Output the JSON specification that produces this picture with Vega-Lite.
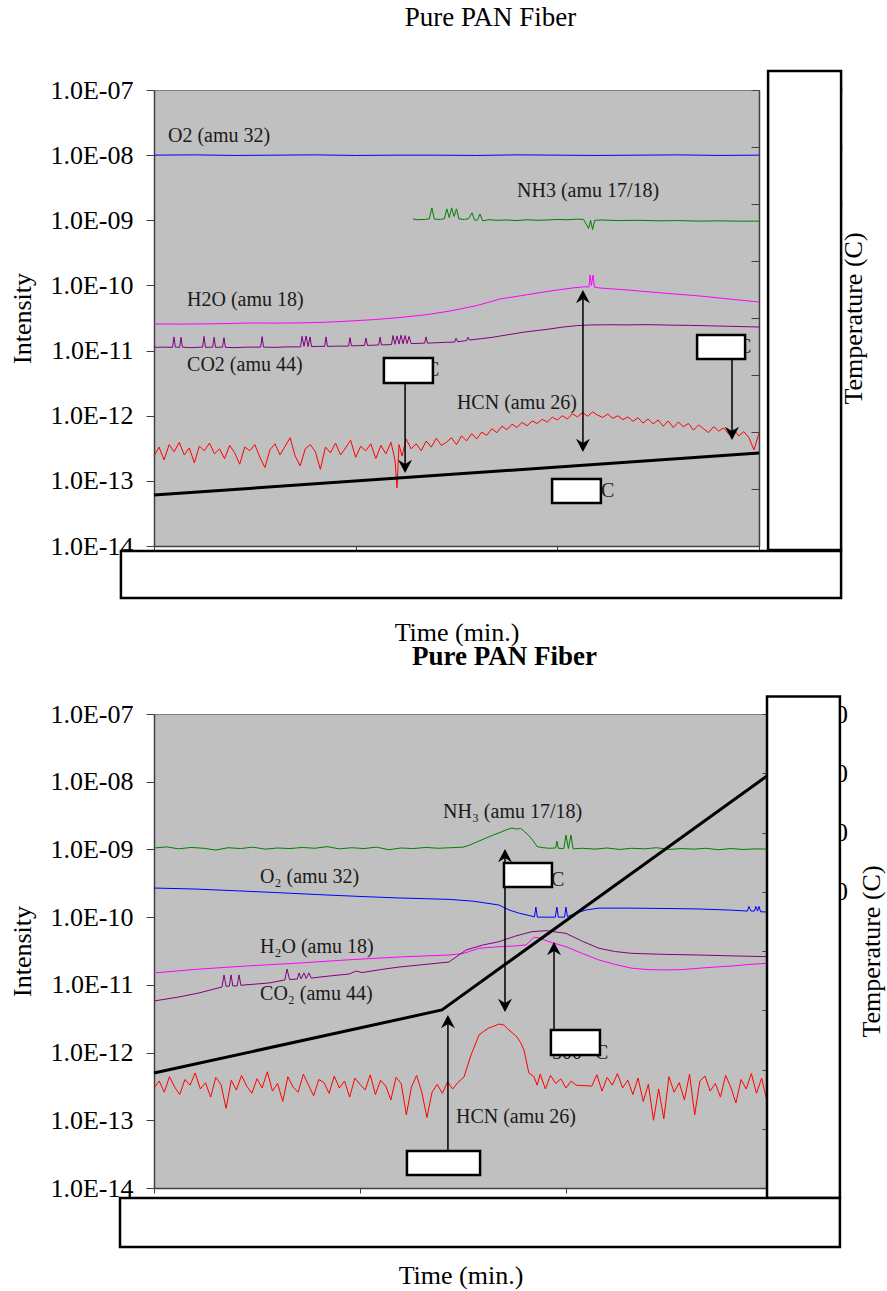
{
"$schema": "https://vega.github.io/schema/vega-lite/v6.json",
"padding": {"left": 9, "top": 3, "right": 5, "bottom": 5},
"bounds": "flush",
"spacing": 168,
"config": {
  "font": "Liberation Serif",
  "view": {"fill": "#c0c0c0", "stroke": "#808080", "strokeWidth": 1},
  "axis": {"grid": false, "domainColor": "#404040", "tickColor": "#404040", "labelColor": "#000000", "titleColor": "#000000", "labelFont": "Liberation Serif", "titleFont": "Liberation Serif", "labelFontSize": 26, "titleFontSize": 26, "titleFontWeight": "normal", "domainWidth": 1.5, "tickWidth": 1},
  "title": {"font": "Liberation Serif", "fontSize": 27, "color": "#000000"},
  "text": {"font": "Liberation Serif"}
},
"datasets": {
  "s1": [
    {"s":"O2","t":0,"v":1.0e-8},{"s":"O2","t":20,"v":1.01e-8},{"s":"O2","t":40,"v":0.99e-8},{"s":"O2","t":60,"v":1.0e-8},{"s":"O2","t":80,"v":1.01e-8},{"s":"O2","t":100,"v":0.99e-8},{"s":"O2","t":120,"v":1.0e-8},{"s":"O2","t":140,"v":1.0e-8},{"s":"O2","t":160,"v":0.99e-8},{"s":"O2","t":180,"v":1.01e-8},{"s":"O2","t":200,"v":1.0e-8},{"s":"O2","t":220,"v":0.99e-8},{"s":"O2","t":240,"v":1.0e-8},{"s":"O2","t":260,"v":1.01e-8},{"s":"O2","t":280,"v":0.99e-8},{"s":"O2","t":300,"v":1.0e-8},
    {"s":"NH3","t":128.4,"v":1.05e-9},{"s":"NH3","t":130.5,"v":1.02e-9},{"s":"NH3","t":134,"v":1.03e-9},{"s":"NH3","t":136.5,"v":1.05e-9},{"s":"NH3","t":137.8,"v":1.55e-9},{"s":"NH3","t":139,"v":1.04e-9},{"s":"NH3","t":142,"v":1.03e-9},{"s":"NH3","t":144,"v":1.06e-9},{"s":"NH3","t":145.2,"v":1.5e-9},{"s":"NH3","t":146.4,"v":1.1e-9},{"s":"NH3","t":147.6,"v":1.55e-9},{"s":"NH3","t":148.8,"v":1.15e-9},{"s":"NH3","t":150,"v":1.5e-9},{"s":"NH3","t":151.2,"v":1.05e-9},{"s":"NH3","t":154,"v":1.03e-9},{"s":"NH3","t":156,"v":1.06e-9},{"s":"NH3","t":157.7,"v":1.3e-9},{"s":"NH3","t":159,"v":1.0e-9},{"s":"NH3","t":160.5,"v":1.02e-9},{"s":"NH3","t":161.6,"v":1.25e-9},{"s":"NH3","t":163,"v":0.98e-9},{"s":"NH3","t":166,"v":1.02e-9},{"s":"NH3","t":170,"v":1.0e-9},{"s":"NH3","t":175,"v":1.01e-9},{"s":"NH3","t":180,"v":0.99e-9},{"s":"NH3","t":185,"v":1.02e-9},{"s":"NH3","t":190,"v":1.0e-9},{"s":"NH3","t":195,"v":1.01e-9},{"s":"NH3","t":200,"v":1.03e-9},{"s":"NH3","t":205,"v":1.02e-9},{"s":"NH3","t":210,"v":1.04e-9},{"s":"NH3","t":213,"v":1.03e-9},{"s":"NH3","t":215.5,"v":0.75e-9},{"s":"NH3","t":216.5,"v":1.0e-9},{"s":"NH3","t":217.5,"v":0.72e-9},{"s":"NH3","t":218.5,"v":1.0e-9},{"s":"NH3","t":222,"v":1.01e-9},{"s":"NH3","t":230,"v":0.99e-9},{"s":"NH3","t":240,"v":1.0e-9},{"s":"NH3","t":250,"v":0.98e-9},{"s":"NH3","t":260,"v":0.99e-9},{"s":"NH3","t":270,"v":0.97e-9},{"s":"NH3","t":280,"v":0.98e-9},{"s":"NH3","t":290,"v":0.97e-9},{"s":"NH3","t":300,"v":0.97e-9},
    {"s":"H2O","t":0,"v":2.56e-11},{"s":"H2O","t":15,"v":2.55e-11},{"s":"H2O","t":30,"v":2.58e-11},{"s":"H2O","t":47.6,"v":2.65e-11},{"s":"H2O","t":60,"v":2.64e-11},{"s":"H2O","t":72.4,"v":2.66e-11},{"s":"H2O","t":85,"v":2.72e-11},{"s":"H2O","t":97.2,"v":2.84e-11},{"s":"H2O","t":110,"v":3.0e-11},{"s":"H2O","t":122,"v":3.22e-11},{"s":"H2O","t":135,"v":3.55e-11},{"s":"H2O","t":146.8,"v":4.05e-11},{"s":"H2O","t":160,"v":4.9e-11},{"s":"H2O","t":171.6,"v":6.19e-11},{"s":"H2O","t":185,"v":7.2e-11},{"s":"H2O","t":196.4,"v":8.21e-11},{"s":"H2O","t":208.2,"v":9.2e-11},{"s":"H2O","t":213,"v":9.5e-11},{"s":"H2O","t":215.7,"v":9.5e-11},{"s":"H2O","t":216.2,"v":1.44e-10},{"s":"H2O","t":216.9,"v":1.0e-10},{"s":"H2O","t":217.7,"v":1.44e-10},{"s":"H2O","t":218.4,"v":9.4e-11},{"s":"H2O","t":221.2,"v":9.13e-11},{"s":"H2O","t":235,"v":8.5e-11},{"s":"H2O","t":246,"v":7.93e-11},{"s":"H2O","t":258,"v":7.4e-11},{"s":"H2O","t":270.7,"v":6.88e-11},{"s":"H2O","t":285,"v":6.2e-11},{"s":"H2O","t":300,"v":5.57e-11},
    {"s":"CO2","t":0,"v":1.12e-11},{"s":"CO2","t":5,"v":1.13e-11},{"s":"CO2","t":9.2,"v":1.12e-11},{"s":"CO2","t":9.9,"v":1.62e-11},{"s":"CO2","t":10.6,"v":1.13e-11},{"s":"CO2","t":12.7,"v":1.12e-11},{"s":"CO2","t":13.4,"v":1.6e-11},{"s":"CO2","t":14.1,"v":1.13e-11},{"s":"CO2","t":18,"v":1.11e-11},{"s":"CO2","t":24.1,"v":1.13e-11},{"s":"CO2","t":24.8,"v":1.65e-11},{"s":"CO2","t":25.5,"v":1.12e-11},{"s":"CO2","t":29.1,"v":1.13e-11},{"s":"CO2","t":29.8,"v":1.6e-11},{"s":"CO2","t":30.5,"v":1.12e-11},{"s":"CO2","t":34,"v":1.13e-11},{"s":"CO2","t":34.7,"v":1.58e-11},{"s":"CO2","t":35.4,"v":1.12e-11},{"s":"CO2","t":40,"v":1.11e-11},{"s":"CO2","t":46,"v":1.13e-11},{"s":"CO2","t":52.9,"v":1.13e-11},{"s":"CO2","t":53.6,"v":1.64e-11},{"s":"CO2","t":54.3,"v":1.13e-11},{"s":"CO2","t":60,"v":1.12e-11},{"s":"CO2","t":66,"v":1.14e-11},{"s":"CO2","t":72.7,"v":1.14e-11},{"s":"CO2","t":73.4,"v":1.66e-11},{"s":"CO2","t":74.4,"v":1.16e-11},{"s":"CO2","t":75.4,"v":1.68e-11},{"s":"CO2","t":76.4,"v":1.15e-11},{"s":"CO2","t":77.4,"v":1.62e-11},{"s":"CO2","t":78.1,"v":1.15e-11},{"s":"CO2","t":82,"v":1.16e-11},{"s":"CO2","t":84.6,"v":1.16e-11},{"s":"CO2","t":85.3,"v":1.62e-11},{"s":"CO2","t":86,"v":1.16e-11},{"s":"CO2","t":91,"v":1.17e-11},{"s":"CO2","t":96.5,"v":1.17e-11},{"s":"CO2","t":97.2,"v":1.58e-11},{"s":"CO2","t":97.9,"v":1.18e-11},{"s":"CO2","t":101,"v":1.19e-11},{"s":"CO2","t":104.4,"v":1.2e-11},{"s":"CO2","t":105.1,"v":1.55e-11},{"s":"CO2","t":105.8,"v":1.2e-11},{"s":"CO2","t":109,"v":1.21e-11},{"s":"CO2","t":111.4,"v":1.22e-11},{"s":"CO2","t":112.1,"v":1.6e-11},{"s":"CO2","t":112.8,"v":1.22e-11},{"s":"CO2","t":116,"v":1.23e-11},{"s":"CO2","t":117.8,"v":1.24e-11},{"s":"CO2","t":118.5,"v":1.7e-11},{"s":"CO2","t":119.5,"v":1.25e-11},{"s":"CO2","t":120.5,"v":1.68e-11},{"s":"CO2","t":121.5,"v":1.26e-11},{"s":"CO2","t":122.5,"v":1.72e-11},{"s":"CO2","t":123.5,"v":1.27e-11},{"s":"CO2","t":124.5,"v":1.7e-11},{"s":"CO2","t":125.5,"v":1.28e-11},{"s":"CO2","t":126.5,"v":1.65e-11},{"s":"CO2","t":127.5,"v":1.28e-11},{"s":"CO2","t":131,"v":1.29e-11},{"s":"CO2","t":134.2,"v":1.3e-11},{"s":"CO2","t":134.9,"v":1.62e-11},{"s":"CO2","t":135.6,"v":1.3e-11},{"s":"CO2","t":140,"v":1.32e-11},{"s":"CO2","t":145,"v":1.34e-11},{"s":"CO2","t":149.1,"v":1.35e-11},{"s":"CO2","t":149.8,"v":1.55e-11},{"s":"CO2","t":150.5,"v":1.37e-11},{"s":"CO2","t":155,"v":1.42e-11},{"s":"CO2","t":155.7,"v":1.6e-11},{"s":"CO2","t":156.4,"v":1.45e-11},{"s":"CO2","t":162,"v":1.52e-11},{"s":"CO2","t":168,"v":1.6e-11},{"s":"CO2","t":172,"v":1.68e-11},{"s":"CO2","t":178,"v":1.8e-11},{"s":"CO2","t":184,"v":1.93e-11},{"s":"CO2","t":190,"v":2.03e-11},{"s":"CO2","t":196,"v":2.14e-11},{"s":"CO2","t":203,"v":2.3e-11},{"s":"CO2","t":210,"v":2.42e-11},{"s":"CO2","t":216,"v":2.47e-11},{"s":"CO2","t":225,"v":2.49e-11},{"s":"CO2","t":235,"v":2.48e-11},{"s":"CO2","t":245,"v":2.5e-11},{"s":"CO2","t":255,"v":2.46e-11},{"s":"CO2","t":265,"v":2.44e-11},{"s":"CO2","t":275,"v":2.4e-11},{"s":"CO2","t":285,"v":2.36e-11},{"s":"CO2","t":295,"v":2.32e-11},{"s":"CO2","t":300,"v":2.3e-11},
    {"s":"HCN","t":0,"v":2.4e-13},{"s":"HCN","t":2.5,"v":3.3e-13},{"s":"HCN","t":5,"v":2.1e-13},{"s":"HCN","t":7.5,"v":3.6e-13},{"s":"HCN","t":10,"v":2.8e-13},{"s":"HCN","t":12.5,"v":3.9e-13},{"s":"HCN","t":15,"v":2.5e-13},{"s":"HCN","t":17.5,"v":3.2e-13},{"s":"HCN","t":20,"v":1.9e-13},{"s":"HCN","t":22.5,"v":3.4e-13},{"s":"HCN","t":25,"v":2.9e-13},{"s":"HCN","t":27.5,"v":3.8e-13},{"s":"HCN","t":30,"v":2.6e-13},{"s":"HCN","t":32.5,"v":3.1e-13},{"s":"HCN","t":35,"v":2.2e-13},{"s":"HCN","t":37.5,"v":3.5e-13},{"s":"HCN","t":40,"v":2.7e-13},{"s":"HCN","t":42.5,"v":1.8e-13},{"s":"HCN","t":45,"v":3.3e-13},{"s":"HCN","t":47.5,"v":2.9e-13},{"s":"HCN","t":50,"v":3.6e-13},{"s":"HCN","t":52.5,"v":2.3e-13},{"s":"HCN","t":55,"v":1.6e-13},{"s":"HCN","t":57.5,"v":3.0e-13},{"s":"HCN","t":60,"v":3.7e-13},{"s":"HCN","t":62.5,"v":2.5e-13},{"s":"HCN","t":65,"v":3.4e-13},{"s":"HCN","t":67.5,"v":4.6e-13},{"s":"HCN","t":70,"v":2.4e-13},{"s":"HCN","t":72.5,"v":1.7e-13},{"s":"HCN","t":75,"v":3.1e-13},{"s":"HCN","t":77.5,"v":3.6e-13},{"s":"HCN","t":80,"v":2.8e-13},{"s":"HCN","t":82.5,"v":1.5e-13},{"s":"HCN","t":85,"v":3.3e-13},{"s":"HCN","t":87.5,"v":2.7e-13},{"s":"HCN","t":90,"v":3.8e-13},{"s":"HCN","t":92.5,"v":2.5e-13},{"s":"HCN","t":95,"v":3.2e-13},{"s":"HCN","t":97.5,"v":4.2e-13},{"s":"HCN","t":100,"v":2.3e-13},{"s":"HCN","t":102.5,"v":3.4e-13},{"s":"HCN","t":105,"v":2.9e-13},{"s":"HCN","t":107.5,"v":3.7e-13},{"s":"HCN","t":110,"v":2.2e-13},{"s":"HCN","t":112.5,"v":3.5e-13},{"s":"HCN","t":115,"v":2.6e-13},{"s":"HCN","t":117.5,"v":3.9e-13},{"s":"HCN","t":119.5,"v":2.1e-13},{"s":"HCN","t":120.5,"v":7.8e-14},{"s":"HCN","t":121.5,"v":3.6e-13},{"s":"HCN","t":123,"v":2.4e-13},{"s":"HCN","t":125,"v":4.4e-13},{"s":"HCN","t":127.5,"v":3.1e-13},{"s":"HCN","t":130,"v":3.7e-13},{"s":"HCN","t":132.5,"v":2.9e-13},{"s":"HCN","t":135,"v":4.1e-13},{"s":"HCN","t":137.5,"v":3.3e-13},{"s":"HCN","t":140,"v":4.5e-13},{"s":"HCN","t":142.5,"v":3.5e-13},{"s":"HCN","t":145,"v":3.9e-13},{"s":"HCN","t":147.5,"v":4.6e-13},{"s":"HCN","t":150,"v":3.6e-13},{"s":"HCN","t":152.5,"v":4.9e-13},{"s":"HCN","t":155,"v":4.1e-13},{"s":"HCN","t":157.5,"v":5.3e-13},{"s":"HCN","t":160,"v":4.4e-13},{"s":"HCN","t":162.5,"v":5.6e-13},{"s":"HCN","t":165,"v":5.0e-13},{"s":"HCN","t":167.5,"v":6.3e-13},{"s":"HCN","t":170,"v":5.5e-13},{"s":"HCN","t":172.5,"v":6.9e-13},{"s":"HCN","t":175,"v":6.1e-13},{"s":"HCN","t":177.5,"v":7.4e-13},{"s":"HCN","t":180,"v":6.6e-13},{"s":"HCN","t":182.5,"v":7.9e-13},{"s":"HCN","t":185,"v":7.0e-13},{"s":"HCN","t":187.5,"v":8.3e-13},{"s":"HCN","t":190,"v":7.6e-13},{"s":"HCN","t":192.5,"v":8.8e-13},{"s":"HCN","t":195,"v":8.0e-13},{"s":"HCN","t":197.5,"v":9.5e-13},{"s":"HCN","t":200,"v":8.6e-13},{"s":"HCN","t":202.5,"v":1.0e-12},{"s":"HCN","t":205,"v":8.9e-13},{"s":"HCN","t":207.5,"v":1.07e-12},{"s":"HCN","t":210,"v":9.6e-13},{"s":"HCN","t":212.5,"v":1.12e-12},{"s":"HCN","t":215,"v":9.8e-13},{"s":"HCN","t":217.5,"v":1.14e-12},{"s":"HCN","t":220,"v":1.02e-12},{"s":"HCN","t":222.5,"v":9.4e-13},{"s":"HCN","t":225,"v":1.06e-12},{"s":"HCN","t":227.5,"v":9.1e-13},{"s":"HCN","t":230,"v":1.0e-12},{"s":"HCN","t":232.5,"v":8.7e-13},{"s":"HCN","t":235,"v":9.6e-13},{"s":"HCN","t":237.5,"v":8.2e-13},{"s":"HCN","t":240,"v":9.3e-13},{"s":"HCN","t":242.5,"v":7.7e-13},{"s":"HCN","t":245,"v":8.9e-13},{"s":"HCN","t":247.5,"v":7.5e-13},{"s":"HCN","t":250,"v":8.6e-13},{"s":"HCN","t":252.5,"v":6.9e-13},{"s":"HCN","t":255,"v":8.3e-13},{"s":"HCN","t":257.5,"v":6.6e-13},{"s":"HCN","t":260,"v":8.0e-13},{"s":"HCN","t":262.5,"v":6.8e-13},{"s":"HCN","t":265,"v":7.6e-13},{"s":"HCN","t":267.5,"v":6.0e-13},{"s":"HCN","t":270,"v":7.2e-13},{"s":"HCN","t":272.5,"v":6.3e-13},{"s":"HCN","t":275,"v":5.5e-13},{"s":"HCN","t":277.5,"v":6.8e-13},{"s":"HCN","t":280,"v":5.8e-13},{"s":"HCN","t":282.5,"v":6.5e-13},{"s":"HCN","t":285,"v":5.2e-13},{"s":"HCN","t":287.5,"v":6.1e-13},{"s":"HCN","t":290,"v":4.9e-13},{"s":"HCN","t":292.5,"v":5.7e-13},{"s":"HCN","t":295,"v":4.6e-13},{"s":"HCN","t":297.5,"v":3.0e-13},{"s":"HCN","t":300,"v":5.4e-13}
  ],
  "s2": [
    {"s":"NH3","t":0,"v":1.05e-9},{"s":"NH3","t":6,"v":1.09e-9},{"s":"NH3","t":12,"v":1.02e-9},{"s":"NH3","t":18,"v":1.07e-9},{"s":"NH3","t":24,"v":1.04e-9},{"s":"NH3","t":30,"v":0.98e-9},{"s":"NH3","t":36,"v":1.06e-9},{"s":"NH3","t":42,"v":1.03e-9},{"s":"NH3","t":48,"v":1.08e-9},{"s":"NH3","t":54,"v":1.01e-9},{"s":"NH3","t":60,"v":1.05e-9},{"s":"NH3","t":66,"v":1.03e-9},{"s":"NH3","t":72,"v":1.07e-9},{"s":"NH3","t":78,"v":1.04e-9},{"s":"NH3","t":84,"v":1.1e-9},{"s":"NH3","t":90,"v":1.02e-9},{"s":"NH3","t":96,"v":1.06e-9},{"s":"NH3","t":102,"v":1.03e-9},{"s":"NH3","t":108,"v":1.08e-9},{"s":"NH3","t":114,"v":0.99e-9},{"s":"NH3","t":120,"v":1.05e-9},{"s":"NH3","t":126,"v":1.03e-9},{"s":"NH3","t":132,"v":1.07e-9},{"s":"NH3","t":138,"v":1.04e-9},{"s":"NH3","t":144,"v":1.06e-9},{"s":"NH3","t":150,"v":1.08e-9},{"s":"NH3","t":152.9,"v":1.15e-9},{"s":"NH3","t":156,"v":1.26e-9},{"s":"NH3","t":160,"v":1.42e-9},{"s":"NH3","t":164,"v":1.6e-9},{"s":"NH3","t":168,"v":1.78e-9},{"s":"NH3","t":171,"v":1.95e-9},{"s":"NH3","t":173.8,"v":2.07e-9},{"s":"NH3","t":176,"v":2.0e-9},{"s":"NH3","t":178,"v":2.05e-9},{"s":"NH3","t":180,"v":1.82e-9},{"s":"NH3","t":182,"v":1.6e-9},{"s":"NH3","t":184,"v":1.35e-9},{"s":"NH3","t":186,"v":1.1e-9},{"s":"NH3","t":189,"v":1.06e-9},{"s":"NH3","t":192,"v":1.04e-9},{"s":"NH3","t":195,"v":1.05e-9},{"s":"NH3","t":195.6,"v":1.33e-9},{"s":"NH3","t":196.3,"v":1.04e-9},{"s":"NH3","t":199,"v":1.03e-9},{"s":"NH3","t":200,"v":1.63e-9},{"s":"NH3","t":201.2,"v":1.03e-9},{"s":"NH3","t":202.4,"v":1.63e-9},{"s":"NH3","t":203.5,"v":1.02e-9},{"s":"NH3","t":208,"v":1.04e-9},{"s":"NH3","t":214,"v":1.01e-9},{"s":"NH3","t":220,"v":1.05e-9},{"s":"NH3","t":226,"v":1.0e-9},{"s":"NH3","t":232,"v":1.04e-9},{"s":"NH3","t":238,"v":1.02e-9},{"s":"NH3","t":244,"v":1.06e-9},{"s":"NH3","t":250,"v":1.0e-9},{"s":"NH3","t":256,"v":1.03e-9},{"s":"NH3","t":262,"v":1.01e-9},{"s":"NH3","t":268,"v":1.04e-9},{"s":"NH3","t":274,"v":0.99e-9},{"s":"NH3","t":280,"v":1.03e-9},{"s":"NH3","t":286,"v":1.0e-9},{"s":"NH3","t":292,"v":1.02e-9},{"s":"NH3","t":297.6,"v":1.01e-9},
    {"s":"O2","t":0,"v":2.69e-10},{"s":"O2","t":20,"v":2.6e-10},{"s":"O2","t":40,"v":2.45e-10},{"s":"O2","t":60,"v":2.3e-10},{"s":"O2","t":80,"v":2.15e-10},{"s":"O2","t":100,"v":2.02e-10},{"s":"O2","t":118.9,"v":1.92e-10},{"s":"O2","t":143.2,"v":1.83e-10},{"s":"O2","t":155,"v":1.72e-10},{"s":"O2","t":167.5,"v":1.51e-10},{"s":"O2","t":172.3,"v":1.28e-10},{"s":"O2","t":177,"v":1.15e-10},{"s":"O2","t":181.1,"v":1.075e-10},{"s":"O2","t":184.7,"v":1.01e-10},{"s":"O2","t":185.4,"v":1.41e-10},{"s":"O2","t":186.1,"v":1.0e-10},{"s":"O2","t":190,"v":1.0e-10},{"s":"O2","t":194.8,"v":1.0e-10},{"s":"O2","t":195.6,"v":1.41e-10},{"s":"O2","t":196.3,"v":1.0e-10},{"s":"O2","t":199.3,"v":1.0e-10},{"s":"O2","t":200,"v":1.41e-10},{"s":"O2","t":200.7,"v":1.02e-10},{"s":"O2","t":205,"v":1.15e-10},{"s":"O2","t":210,"v":1.28e-10},{"s":"O2","t":216,"v":1.36e-10},{"s":"O2","t":230,"v":1.36e-10},{"s":"O2","t":250,"v":1.34e-10},{"s":"O2","t":264.6,"v":1.32e-10},{"s":"O2","t":280,"v":1.27e-10},{"s":"O2","t":288.1,"v":1.23e-10},{"s":"O2","t":288.8,"v":1.44e-10},{"s":"O2","t":289.8,"v":1.23e-10},{"s":"O2","t":291.5,"v":1.23e-10},{"s":"O2","t":292.2,"v":1.44e-10},{"s":"O2","t":293,"v":1.23e-10},{"s":"O2","t":293.7,"v":1.44e-10},{"s":"O2","t":294.5,"v":1.2e-10},{"s":"O2","t":297.6,"v":1.19e-10},
    {"s":"H2O","t":0,"v":1.5e-11},{"s":"H2O","t":22,"v":1.71e-11},{"s":"H2O","t":45,"v":1.9e-11},{"s":"H2O","t":70.4,"v":2.1e-11},{"s":"H2O","t":95,"v":2.35e-11},{"s":"H2O","t":118.9,"v":2.58e-11},{"s":"H2O","t":143.2,"v":2.76e-11},{"s":"H2O","t":150,"v":2.9e-11},{"s":"H2O","t":157.8,"v":3.47e-11},{"s":"H2O","t":167.5,"v":3.66e-11},{"s":"H2O","t":175,"v":3.75e-11},{"s":"H2O","t":180.6,"v":3.88e-11},{"s":"H2O","t":184.5,"v":5.04e-11},{"s":"H2O","t":186.9,"v":4.95e-11},{"s":"H2O","t":191.7,"v":4.35e-11},{"s":"H2O","t":200,"v":3.66e-11},{"s":"H2O","t":208,"v":2.9e-11},{"s":"H2O","t":216,"v":2.33e-11},{"s":"H2O","t":224,"v":2.0e-11},{"s":"H2O","t":232,"v":1.76e-11},{"s":"H2O","t":240,"v":1.68e-11},{"s":"H2O","t":248.5,"v":1.66e-11},{"s":"H2O","t":256,"v":1.68e-11},{"s":"H2O","t":264.6,"v":1.76e-11},{"s":"H2O","t":272,"v":1.83e-11},{"s":"H2O","t":280.6,"v":1.9e-11},{"s":"H2O","t":289,"v":2.0e-11},{"s":"H2O","t":297.6,"v":2.08e-11},
    {"s":"CO2","t":0,"v":5.78e-12},{"s":"CO2","t":12.1,"v":6.62e-12},{"s":"CO2","t":21.8,"v":7.59e-12},{"s":"CO2","t":33,"v":9.3e-12},{"s":"CO2","t":34,"v":1.4e-11},{"s":"CO2","t":35,"v":9.5e-12},{"s":"CO2","t":36.6,"v":9.6e-12},{"s":"CO2","t":37.4,"v":1.4e-11},{"s":"CO2","t":38.3,"v":9.6e-12},{"s":"CO2","t":40.4,"v":9.7e-12},{"s":"CO2","t":41.3,"v":1.4e-11},{"s":"CO2","t":42.2,"v":9.8e-12},{"s":"CO2","t":43.7,"v":9.95e-12},{"s":"CO2","t":55.8,"v":1.065e-11},{"s":"CO2","t":63.5,"v":1.18e-11},{"s":"CO2","t":64.6,"v":1.71e-11},{"s":"CO2","t":65.8,"v":1.2e-11},{"s":"CO2","t":69.6,"v":1.22e-11},{"s":"CO2","t":70.4,"v":1.5e-11},{"s":"CO2","t":71.4,"v":1.23e-11},{"s":"CO2","t":72.8,"v":1.5e-11},{"s":"CO2","t":73.9,"v":1.24e-11},{"s":"CO2","t":75.2,"v":1.5e-11},{"s":"CO2","t":76.3,"v":1.26e-11},{"s":"CO2","t":85,"v":1.35e-11},{"s":"CO2","t":95,"v":1.45e-11},{"s":"CO2","t":98,"v":1.6e-11},{"s":"CO2","t":101,"v":1.52e-11},{"s":"CO2","t":110,"v":1.68e-11},{"s":"CO2","t":119,"v":1.835e-11},{"s":"CO2","t":130,"v":1.98e-11},{"s":"CO2","t":143.2,"v":2.175e-11},{"s":"CO2","t":151.5,"v":3.27e-11},{"s":"CO2","t":160,"v":3.9e-11},{"s":"CO2","t":167.5,"v":4.34e-11},{"s":"CO2","t":175,"v":5.2e-11},{"s":"CO2","t":183.5,"v":6.1e-11},{"s":"CO2","t":190.3,"v":6.31e-11},{"s":"CO2","t":200,"v":5.77e-11},{"s":"CO2","t":208,"v":4.4e-11},{"s":"CO2","t":216,"v":3.47e-11},{"s":"CO2","t":224,"v":3.1e-11},{"s":"CO2","t":232,"v":2.92e-11},{"s":"CO2","t":248,"v":2.82e-11},{"s":"CO2","t":264.6,"v":2.76e-11},{"s":"CO2","t":280,"v":2.68e-11},{"s":"CO2","t":297.6,"v":2.61e-11},
    {"s":"HCN","t":0,"v":3.0e-13},{"s":"HCN","t":2.5,"v":3.8e-13},{"s":"HCN","t":5,"v":2.6e-13},{"s":"HCN","t":7.5,"v":4.4e-13},{"s":"HCN","t":10,"v":3.1e-13},{"s":"HCN","t":12.5,"v":2.4e-13},{"s":"HCN","t":15,"v":4.0e-13},{"s":"HCN","t":17.5,"v":3.3e-13},{"s":"HCN","t":20,"v":5.0e-13},{"s":"HCN","t":22.5,"v":2.9e-13},{"s":"HCN","t":25,"v":3.6e-13},{"s":"HCN","t":27.5,"v":2.2e-13},{"s":"HCN","t":30,"v":4.3e-13},{"s":"HCN","t":32.5,"v":3.4e-13},{"s":"HCN","t":35,"v":1.5e-13},{"s":"HCN","t":37.5,"v":3.9e-13},{"s":"HCN","t":40,"v":2.8e-13},{"s":"HCN","t":42.5,"v":4.6e-13},{"s":"HCN","t":45,"v":3.2e-13},{"s":"HCN","t":47.5,"v":2.5e-13},{"s":"HCN","t":50,"v":4.1e-13},{"s":"HCN","t":52.5,"v":3.0e-13},{"s":"HCN","t":55,"v":5.2e-13},{"s":"HCN","t":57.5,"v":2.7e-13},{"s":"HCN","t":60,"v":3.5e-13},{"s":"HCN","t":62.5,"v":1.9e-13},{"s":"HCN","t":65,"v":4.4e-13},{"s":"HCN","t":67.5,"v":3.1e-13},{"s":"HCN","t":70,"v":2.6e-13},{"s":"HCN","t":72.5,"v":4.8e-13},{"s":"HCN","t":75,"v":3.3e-13},{"s":"HCN","t":77.5,"v":2.3e-13},{"s":"HCN","t":80,"v":4.0e-13},{"s":"HCN","t":82.5,"v":3.6e-13},{"s":"HCN","t":85,"v":2.5e-13},{"s":"HCN","t":87.5,"v":4.5e-13},{"s":"HCN","t":90,"v":3.0e-13},{"s":"HCN","t":92.5,"v":3.8e-13},{"s":"HCN","t":95,"v":2.2e-13},{"s":"HCN","t":97.5,"v":4.2e-13},{"s":"HCN","t":100,"v":3.4e-13},{"s":"HCN","t":102.5,"v":2.8e-13},{"s":"HCN","t":105,"v":4.7e-13},{"s":"HCN","t":107.5,"v":2.4e-13},{"s":"HCN","t":110,"v":3.9e-13},{"s":"HCN","t":112.5,"v":3.2e-13},{"s":"HCN","t":115,"v":2.0e-13},{"s":"HCN","t":117.5,"v":4.3e-13},{"s":"HCN","t":120,"v":3.5e-13},{"s":"HCN","t":122.5,"v":1.2e-13},{"s":"HCN","t":125,"v":3.1e-13},{"s":"HCN","t":127.5,"v":4.6e-13},{"s":"HCN","t":130,"v":2.6e-13},{"s":"HCN","t":132.5,"v":1.1e-13},{"s":"HCN","t":135,"v":2.6e-13},{"s":"HCN","t":137.5,"v":3.4e-13},{"s":"HCN","t":140,"v":2.5e-13},{"s":"HCN","t":142.5,"v":3.7e-13},{"s":"HCN","t":145,"v":2.9e-13},{"s":"HCN","t":147.5,"v":3.6e-13},{"s":"HCN","t":150.5,"v":4.36e-13},{"s":"HCN","t":153.9,"v":9.2e-13},{"s":"HCN","t":157.8,"v":1.82e-12},{"s":"HCN","t":160,"v":2.05e-12},{"s":"HCN","t":162.6,"v":2.31e-12},{"s":"HCN","t":165,"v":2.45e-12},{"s":"HCN","t":167.5,"v":2.64e-12},{"s":"HCN","t":169.9,"v":2.55e-12},{"s":"HCN","t":172.3,"v":2.15e-12},{"s":"HCN","t":174,"v":1.95e-12},{"s":"HCN","t":176.2,"v":1.7e-12},{"s":"HCN","t":178,"v":1.4e-12},{"s":"HCN","t":179.6,"v":1.09e-12},{"s":"HCN","t":182,"v":5.0e-13},{"s":"HCN","t":184.5,"v":4.4e-13},{"s":"HCN","t":186,"v":3.3e-13},{"s":"HCN","t":187.5,"v":4.8e-13},{"s":"HCN","t":190,"v":2.9e-13},{"s":"HCN","t":192.5,"v":4.6e-13},{"s":"HCN","t":195,"v":3.5e-13},{"s":"HCN","t":197.5,"v":4.1e-13},{"s":"HCN","t":200,"v":3.0e-13},{"s":"HCN","t":202.5,"v":3.8e-13},{"s":"HCN","t":205,"v":3.3e-13},{"s":"HCN","t":212.5,"v":3.2e-13},{"s":"HCN","t":215,"v":4.7e-13},{"s":"HCN","t":217.5,"v":2.7e-13},{"s":"HCN","t":220,"v":4.3e-13},{"s":"HCN","t":222.5,"v":3.3e-13},{"s":"HCN","t":225,"v":4.9e-13},{"s":"HCN","t":227.5,"v":3.0e-13},{"s":"HCN","t":230,"v":3.9e-13},{"s":"HCN","t":232.5,"v":2.4e-13},{"s":"HCN","t":235,"v":4.2e-13},{"s":"HCN","t":237.5,"v":1.9e-13},{"s":"HCN","t":240,"v":3.4e-13},{"s":"HCN","t":242.5,"v":1.0e-13},{"s":"HCN","t":245,"v":2.9e-13},{"s":"HCN","t":247.5,"v":1.05e-13},{"s":"HCN","t":250,"v":4.4e-13},{"s":"HCN","t":252.5,"v":2.6e-13},{"s":"HCN","t":255,"v":3.6e-13},{"s":"HCN","t":257.5,"v":2.0e-13},{"s":"HCN","t":260,"v":4.8e-13},{"s":"HCN","t":262.5,"v":1.2e-13},{"s":"HCN","t":265,"v":3.8e-13},{"s":"HCN","t":267.5,"v":4.5e-13},{"s":"HCN","t":270,"v":2.7e-13},{"s":"HCN","t":272.5,"v":3.5e-13},{"s":"HCN","t":275,"v":2.2e-13},{"s":"HCN","t":277.5,"v":4.6e-13},{"s":"HCN","t":280,"v":3.1e-13},{"s":"HCN","t":282.5,"v":1.8e-13},{"s":"HCN","t":285,"v":4.0e-13},{"s":"HCN","t":287.5,"v":2.9e-13},{"s":"HCN","t":290,"v":4.9e-13},{"s":"HCN","t":292.5,"v":2.5e-13},{"s":"HCN","t":295,"v":4.2e-13},{"s":"HCN","t":297.6,"v":1.9e-13}
  ],
  "temp1": [{"t":0,"c":179},{"t":300,"c":326}],
  "temp2": [{"t":0,"c":388},{"t":139.8,"c":601},{"t":297.6,"c":1391}],
  "b1": [
    {"t":304.5,"t2":340.7,"v":1.957e-7,"v2":8.68e-15},
    {"t":-16.4,"t2":340.7,"v":8.38e-15,"v2":1.59e-15},
    {"t":114.0,"t2":138.3,"v":7.69e-12,"v2":3.18e-12},
    {"t":269.3,"t2":293.1,"v":1.734e-11,"v2":7.42e-12},
    {"t":197.4,"t2":221.6,"v":1.068e-13,"v2":4.57e-14}
  ],
  "b2": [
    {"t":297.6,"t2":333.0,"v":1.82e-7,"v2":7.11e-15},
    {"t":-16.5,"t2":333.0,"v":7.11e-15,"v2":1.345e-15},
    {"t":169.9,"t2":193.2,"v":6.30e-10,"v2":2.787e-10},
    {"t":192.7,"t2":216.5,"v":2.154e-12,"v2":9.21e-13},
    {"t":122.8,"t2":158.3,"v":3.52e-14,"v2":1.556e-14}
  ],
  "r1": [{"t":124.5,"v":3.18e-12,"v2":1.5e-13},{"t":286.6,"v":7.42e-12,"v2":4.8e-13},{"t":212.7,"v":7.5e-11,"v2":3.1e-13}],
  "r2": [{"t":170.4,"v":9.0e-10,"v2":4.5e-12},{"t":194.2,"v":3.8e-11,"v2":2.154e-12},{"t":142.7,"v":3.1e-12,"v2":3.52e-14}],
  "ad1": [{"t":124.5,"v":1.32e-13},{"t":286.6,"v":4.24e-13},{"t":212.7,"v":2.77e-13}],
  "au1": [{"t":212.7,"v":8.51e-11}],
  "ad2": [{"t":170.4,"v":3.97e-12}],
  "au2": [{"t":170.4,"v":1.015e-9},{"t":194.2,"v":4.30e-11},{"t":142.7,"v":3.59e-12}],
  "l1": [
    {"t":6.94,"v":1.97e-8,"label":"O2 (amu 32)"},
    {"t":180,"v":2.82e-9,"label":"NH3 (amu 17/18)"},
    {"t":16.4,"v":5.98e-11,"label":"H2O (amu 18)"},
    {"t":16.4,"v":6.0e-12,"label":"CO2 (amu 44)"},
    {"t":150.2,"v":1.57e-12,"label":"HCN (amu 26)"},
    {"t":134.9,"v":5.03e-12,"label":"C"},
    {"t":289.6,"v":1.13e-11,"label":"C"},
    {"t":221.6,"v":6.99e-14,"label":"C"}
  ],
  "l2": [
    {"t":140.3,"v":3.57e-9,"label":"NH₃ (amu 17/18)"},
    {"t":51.5,"v":3.92e-10,"label":"O₂ (amu 32)"},
    {"t":51.5,"v":3.62e-11,"label":"H₂O (amu 18)"},
    {"t":51.5,"v":7.32e-12,"label":"CO₂ (amu 44)"},
    {"t":146.6,"v":1.12e-13,"label":"HCN (amu 26)"},
    {"t":192.7,"v":3.54e-10,"label":"C"},
    {"t":193.2,"v":1.0e-12,"label":"500 °C"}
  ]
},
"vconcat": [
  {
    "width": 605, "height": 456,
    "title": {"text": "Pure PAN Fiber", "fontWeight": "normal", "frame": "group", "anchor": "middle", "dx": 34, "offset": 38},
    "resolve": {"scale": {"y": "independent"}},
    "layer": [
      {
        "encoding": {
          "x": {"field": "t", "type": "quantitative", "scale": {"domain": [0, 300], "nice": false, "zero": false}, "axis": {"values": [0, 100, 200, 300], "labels": false, "tickSize": 5, "title": "Time (min.)", "titlePadding": 68}},
          "y": {"field": "v", "type": "quantitative", "scale": {"type": "log", "domain": [1e-14, 1e-7], "nice": false}, "axis": {"values": [1e-14, 1e-13, 1e-12, 1e-11, 1e-10, 1e-9, 1e-8, 1e-7], "labelExpr": "'1.0E-' + (round(-log(datum.value)/LN10) < 10 ? '0' : '') + round(-log(datum.value)/LN10)", "tickSize": 8, "labelPadding": 13, "title": "Intensity", "titlePadding": 14}}
        },
        "layer": [
          {"data": {"name": "s1"}, "mark": {"type": "line", "strokeWidth": 1}, "encoding": {"color": {"field": "s", "type": "nominal", "scale": {"domain": ["O2", "NH3", "H2O", "CO2", "HCN"], "range": ["#0000ff", "#008000", "#ff00ff", "#800080", "#ff0000"]}, "legend": null}}},
          {"data": {"name": "r1"}, "mark": {"type": "rule", "color": "#000000", "strokeWidth": 1.5}, "encoding": {"y2": {"field": "v2"}}},
          {"data": {"name": "ad1"}, "mark": {"type": "point", "shape": "M0,0L-1,-1.9L0,-1.3L1,-1.9Z", "size": 196, "filled": true, "color": "#000000", "opacity": 1}},
          {"data": {"name": "au1"}, "mark": {"type": "point", "shape": "M0,0L-1,1.9L0,1.3L1,1.9Z", "size": 196, "filled": true, "color": "#000000", "opacity": 1}},
          {"data": {"name": "l1"}, "mark": {"type": "text", "align": "left", "baseline": "middle", "fontSize": 20, "color": "#1a1a1a"}, "encoding": {"text": {"field": "label"}}},
          {"data": {"name": "b1"}, "mark": {"type": "rect", "fill": "#ffffff", "stroke": "#000000", "strokeWidth": 2.5}, "encoding": {"x2": {"field": "t2"}, "y2": {"field": "v2"}}}
        ]
      },
      {
        "data": {"name": "temp1"},
        "mark": {"type": "line", "color": "#000000", "strokeWidth": 3},
        "encoding": {
          "x": {"field": "t", "type": "quantitative", "scale": {"domain": [0, 300], "nice": false, "zero": false}, "axis": {"values": [0, 100, 200, 300], "labels": false, "tickSize": 5, "title": "Time (min.)", "titlePadding": 68}},
          "y": {"field": "c", "type": "quantitative", "scale": {"domain": [0, 1600], "nice": false}, "axis": {"orient": "right", "values": [0, 200, 400, 600, 800, 1000, 1200, 1400, 1600], "tickSize": -8, "labelPadding": 33, "title": "Temperature (C)", "titleAngle": 270, "titlePadding": 24}}
        }
      }
    ]
  },
  {
    "width": 613, "height": 474,
    "title": {"text": "Pure PAN Fiber", "fontWeight": "bold", "frame": "group", "anchor": "middle", "dx": 44, "offset": 24},
    "resolve": {"scale": {"y": "independent"}},
    "layer": [
      {
        "encoding": {
          "x": {"field": "t", "type": "quantitative", "scale": {"domain": [0, 297.6], "nice": false, "zero": false}, "axis": {"values": [0, 100, 200], "labels": false, "tickSize": 5, "title": "Time (min.)", "titlePadding": 69}},
          "y": {"field": "v", "type": "quantitative", "scale": {"type": "log", "domain": [1e-14, 1e-7], "nice": false}, "axis": {"values": [1e-14, 1e-13, 1e-12, 1e-11, 1e-10, 1e-9, 1e-8, 1e-7], "labelExpr": "'1.0E-' + (round(-log(datum.value)/LN10) < 10 ? '0' : '') + round(-log(datum.value)/LN10)", "tickSize": 8, "labelPadding": 13, "title": "Intensity", "titlePadding": 14}}
        },
        "layer": [
          {"data": {"name": "s2"}, "mark": {"type": "line", "strokeWidth": 1}, "encoding": {"color": {"field": "s", "type": "nominal", "scale": {"domain": ["O2", "NH3", "H2O", "CO2", "HCN"], "range": ["#0000ff", "#008000", "#ff00ff", "#800080", "#ff0000"]}, "legend": null}}},
          {"data": {"name": "r2"}, "mark": {"type": "rule", "color": "#000000", "strokeWidth": 1.5}, "encoding": {"y2": {"field": "v2"}}},
          {"data": {"name": "ad2"}, "mark": {"type": "point", "shape": "M0,0L-1,-1.9L0,-1.3L1,-1.9Z", "size": 196, "filled": true, "color": "#000000", "opacity": 1}},
          {"data": {"name": "au2"}, "mark": {"type": "point", "shape": "M0,0L-1,1.9L0,1.3L1,1.9Z", "size": 196, "filled": true, "color": "#000000", "opacity": 1}},
          {"data": {"name": "l2"}, "mark": {"type": "text", "align": "left", "baseline": "middle", "fontSize": 20, "color": "#1a1a1a"}, "encoding": {"text": {"field": "label"}}},
          {"data": {"name": "b2"}, "mark": {"type": "rect", "fill": "#ffffff", "stroke": "#000000", "strokeWidth": 2.5}, "encoding": {"x2": {"field": "t2"}, "y2": {"field": "v2"}}}
        ]
      },
      {
        "data": {"name": "temp2"},
        "mark": {"type": "line", "color": "#000000", "strokeWidth": 3},
        "encoding": {
          "x": {"field": "t", "type": "quantitative", "scale": {"domain": [0, 297.6], "nice": false, "zero": false}, "axis": {"values": [0, 100, 200], "labels": false, "tickSize": 5, "title": "Time (min.)", "titlePadding": 69}},
          "y": {"field": "c", "type": "quantitative", "scale": {"domain": [0, 1600], "nice": false}, "axis": {"orient": "right", "values": [0, 200, 400, 600, 800, 1000, 1200, 1400, 1600], "tickSize": -5, "labelPadding": 27, "title": "Temperature (C)", "titleAngle": 270, "titlePadding": 37}}
        }
      }
    ]
  }
]
}
